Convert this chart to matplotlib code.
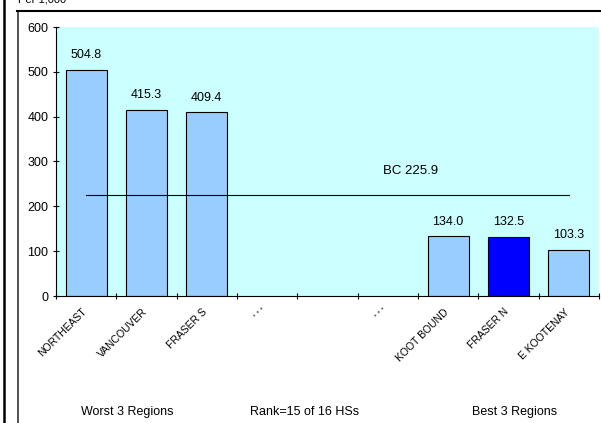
import matplotlib.pyplot as plt
from matplotlib.lines import Line2D

plt.rcParams["font.family"] = ["Liberation Sans", "DejaVu Sans"]

regions = ["NORTHEAST", "VANCOUVER", "FRASER S", "' ' '", "", "' ' '", "KOOT BOUND", "FRASER N", "E KOOTENAY"]
values = [504.8, 415.3, 409.4, None, None, None, 134.0, 132.5, 103.3]
highlight = "FRASER N"
bc_value = 225.9
footer = ["Worst 3 Regions", "Rank=15 of 16 HSs", "Best 3 Regions"]

fig = plt.figure(figsize=(6.01, 4.23), dpi=100)
ax = fig.add_axes([56 / 601, 1 - 296 / 423, 543 / 601, 269 / 423])
ax.set_facecolor("#CCFFFF")

xs = list(range(len(regions)))
for x, name, v in zip(xs, regions, values):
    if v is None:
        continue
    color = "#0000FF" if name == highlight else "#99CCFF"
    ax.bar(x, v, width=0.68, color=color, edgecolor="black", linewidth=0.8, zorder=2)
    ax.annotate(f"{v:.1f}", (x, v), xytext=(0, 6), textcoords="offset points",
                ha="center", va="bottom", fontsize=9)

ax.plot([0, len(regions) - 1], [bc_value, bc_value], color="black", lw=0.8, zorder=3)
ax.text(5.37, bc_value + 40, f"BC {bc_value}", ha="center", va="bottom", fontsize=9.5)

ax.set_xlim(-0.5, len(regions) - 0.5)
ax.set_ylim(0, 600)
ax.set_yticks(range(0, 601, 100))
ax.set_xticks([x - 0.5 for x in range(len(regions) + 1)])
ax.set_xticklabels([])
ax.tick_params(axis="both", direction="inout", length=5, width=0.8, labelsize=9)
ax.tick_params(axis="y", pad=3)
for x, name in zip(xs, regions):
    ax.text(x - 0.08, -24, name, rotation=45, rotation_mode="anchor",
            ha="right", va="top", fontsize=7.5)
for s in ["top", "right"]:
    ax.spines[s].set_visible(False)
for s in ["left", "bottom"]:
    ax.spines[s].set_linewidth(0.8)

for xf, t in zip([127 / 601, 305 / 601, 515 / 601], footer):
    fig.text(xf, 1 - 412 / 423, t, ha="center", va="center", fontsize=9)

# outer frame remnants
fig.add_artist(Line2D([4 / 601, 4 / 601], [0, 1], color="black", lw=1.8))
fig.add_artist(Line2D([17.5 / 601, 17.5 / 601], [0, 1 - 11.5 / 423], color="#333333", lw=1.2))
fig.add_artist(Line2D([17 / 601, 1], [1 - 11.5 / 423, 1 - 11.5 / 423], color="black", lw=1.5))
fig.text(18 / 601, 1 - 2.5 / 423, "Per 1,000", ha="left", va="baseline", fontsize=8)

fig.savefig("out.png", dpi=100)
